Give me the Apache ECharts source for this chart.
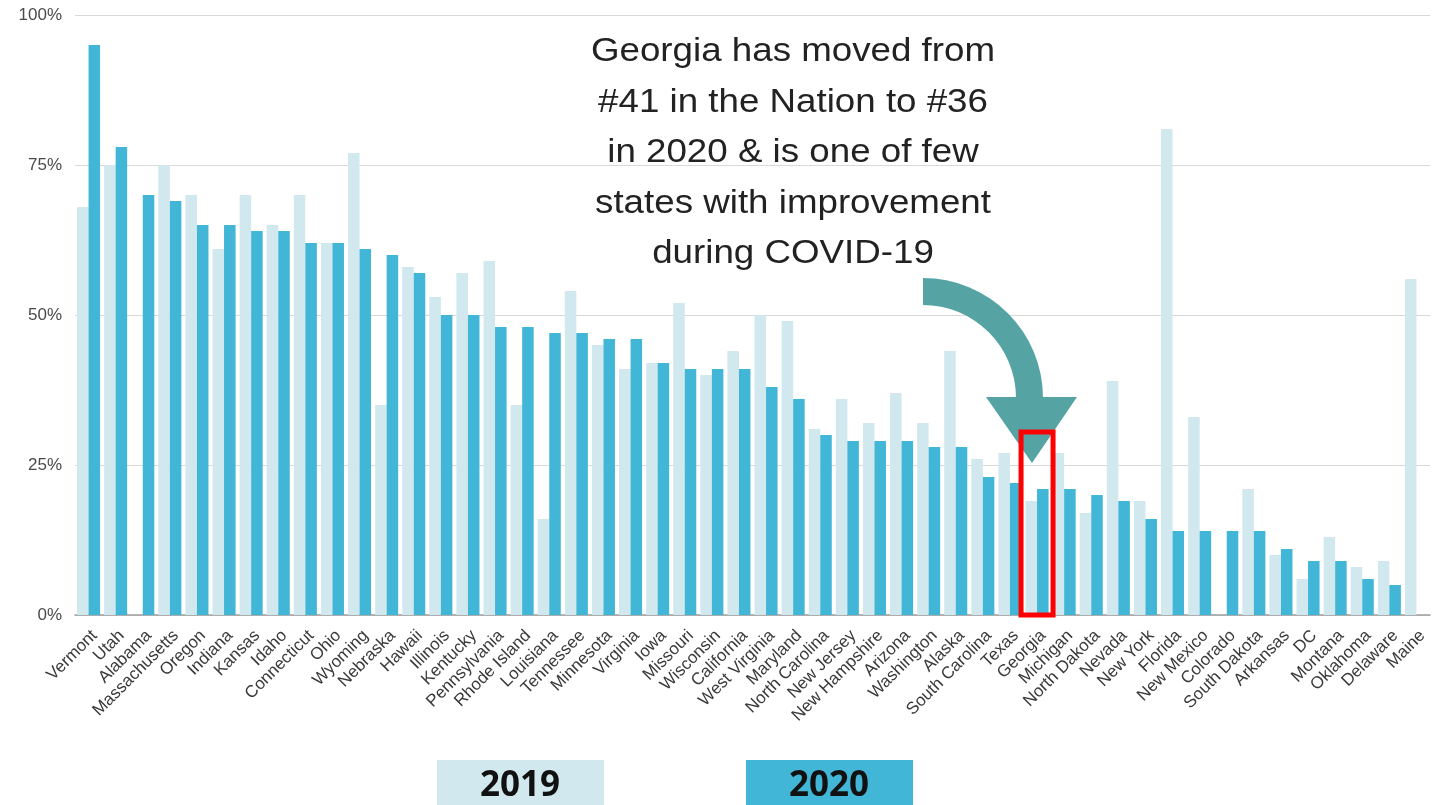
<!DOCTYPE html>
<html>
<head>
<meta charset="utf-8">
<title>Georgia ranking 2019 vs 2020</title>
<script src="https://cdn.jsdelivr.net/npm/echarts@6/dist/echarts.min.js"></script>
<style>
    html, body { margin: 0; padding: 0; background: #ffffff; }
    #stateChart { width: 1440px; height: 805px; }
</style>
</head>
<body>
<div id="stateChart"></div>
<script>
// states, ordered as on the axis
var states = ['Vermont', 'Utah', 'Alabama', 'Massachusetts', 'Oregon', 'Indiana', 'Kansas', 'Idaho',
    'Connecticut', 'Ohio', 'Wyoming', 'Nebraska', 'Hawaii', 'Illinois', 'Kentucky', 'Pennsylvania',
    'Rhode Island', 'Louisiana', 'Tennessee', 'Minnesota', 'Virginia', 'Iowa', 'Missouri', 'Wisconsin',
    'California', 'West Virginia', 'Maryland', 'North Carolina', 'New Jersey', 'New Hampshire', 'Arizona',
    'Washington', 'Alaska', 'South Carolina', 'Texas', 'Georgia', 'Michigan', 'North Dakota', 'Nevada',
    'New York', 'Florida', 'New Mexico', 'Colorado', 'South Dakota', 'Arkansas', 'DC', 'Montana',
    'Oklahoma', 'Delaware', 'Maine'];

// percent values
var values2019 = [68, 75, 0, 75, 70, 61, 70, 65, 70, 62, 77, 35, 58, 53, 57, 59, 35, 16, 54, 45,
    41, 42, 52, 40, 44, 50, 49, 31, 36, 32, 37, 32, 44, 26, 27, 19, 27, 17, 39, 19,
    81, 33, 0, 21, 10, 6, 13, 8, 9, 56];
var values2020 = [95, 78, 70, 69, 65, 65, 64, 64, 62, 62, 61, 60, 57, 50, 50, 48, 48, 47, 47, 46,
    46, 42, 41, 41, 41, 38, 36, 30, 29, 29, 29, 28, 28, 23, 22, 21, 21, 20, 19, 16,
    14, 14, 14, 14, 11, 9, 9, 6, 5, 0];

var yTicks = [0, 25, 50, 75, 100];
var seriesNames = ['2019', '2020'];
var highlightState = 'Georgia';

var noteLines = ['Georgia has moved from', '#41 in the Nation to #36', 'in 2020 & is one of few',
    'states with improvement', 'during COVID-19'];

var COLOR_2019 = '#d1e8ee';
var COLOR_2020 = '#42b6d6';
var COLOR_ARROW = '#55a3a3';

var stateChart;

window.onload = function () {
    init();
};

function init() {
    stateChart = echarts.init(document.getElementById('stateChart'));
    stateChart.setOption(makeOptions());
    // the red box round Georgia is placed from the axes
    stateChart.setOption({ graphic: makeOverlay() });
}

function makeOptions() {
    return {
        animation: false,
        backgroundColor: '#ffffff',
        grid: { left: 75, right: 10, top: 15, bottom: 190 },
        xAxis: {
            type: 'category',
            data: states,
            axisTick: { show: false },
            axisLine: { lineStyle: { color: '#9e9e9e', width: 1.5 } },
            axisLabel: {
                interval: 0,
                rotate: 45,
                margin: 12,
                verticalAlign: 'top',
                color: '#3a3a3a',
                fontSize: 17,
                fontFamily: 'Liberation Sans'
            }
        },
        yAxis: {
            type: 'value',
            min: yTicks[0],
            max: yTicks[yTicks.length - 1],
            interval: 25,
            axisLine: { show: false },
            axisTick: { show: false },
            splitLine: { lineStyle: { color: '#d9d9d9', width: 1.2 } },
            axisLabel: {
                margin: 13,
                color: '#4a4a4a',
                fontSize: 17,
                fontFamily: 'Liberation Sans',
                formatter: '{value}%'
            }
        },
        series: [
            {
                name: seriesNames[0],
                type: 'bar',
                data: values2019,
                barGap: '0%',
                barCategoryGap: '15%',
                itemStyle: { color: COLOR_2019 }
            },
            {
                name: seriesNames[1],
                type: 'bar',
                data: values2020,
                barGap: '0%',
                barCategoryGap: '15%',
                itemStyle: { color: COLOR_2020 }
            }
        ]
    };
}

function makeOverlay() {
    var idx = states.indexOf(highlightState);
    var cx = stateChart.convertToPixel({ xAxisIndex: 0 }, idx);
    var yTop = stateChart.convertToPixel({ yAxisIndex: 0 }, 30.5);
    var yBottom = stateChart.convertToPixel({ yAxisIndex: 0 }, 0);

    return [
        {
            // curved arrow shaft
            type: 'sector',
            z: 10,
            shape: { cx: 923, cy: 398, r0: 93, r: 120, startAngle: -Math.PI / 2, endAngle: 0 },
            style: { fill: COLOR_ARROW }
        },
        {
            type: 'polygon',
            z: 10,
            shape: { points: [[986, 397], [1077, 397], [1032, 463]] },
            style: { fill: COLOR_ARROW }
        },
        {
            type: 'rect',
            z: 20,
            shape: { x: cx - 16, y: yTop, width: 32, height: yBottom - yTop },
            style: { fill: 'none', stroke: '#ff0000', lineWidth: 5 }
        },
        {
            type: 'text',
            z: 20,
            x: 793,
            y: 153,
            scaleX: 1.08,
            style: {
                text: noteLines.join('\n'),
                fill: '#222222',
                font: '34px "Liberation Sans"',
                lineHeight: 50.5,
                align: 'center',
                verticalAlign: 'middle'
            }
        },
        // legend boxes at the bottom
        {
            type: 'rect',
            shape: { x: 437, y: 760, width: 167, height: 60 },
            style: { fill: COLOR_2019 }
        },
        {
            type: 'text',
            x: 520,
            y: 786,
            style: {
                text: seriesNames[0],
                fill: '#111111',
                font: 'bold 35px "Open Sans"',
                align: 'center',
                verticalAlign: 'middle'
            }
        },
        {
            type: 'rect',
            shape: { x: 746, y: 760, width: 167, height: 60 },
            style: { fill: COLOR_2020 }
        },
        {
            type: 'text',
            x: 829,
            y: 786,
            style: {
                text: seriesNames[1],
                fill: '#111111',
                font: 'bold 35px "Open Sans"',
                align: 'center',
                verticalAlign: 'middle'
            }
        }
    ];
}
</script>
</body>
</html>
